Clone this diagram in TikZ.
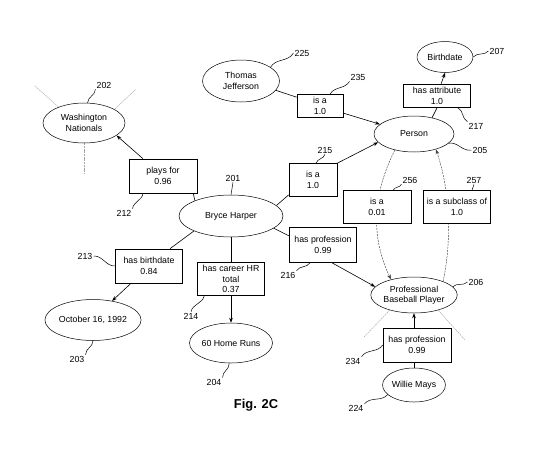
\documentclass[tikz,border=0pt]{standalone}
\usepackage{fontspec}
\setmainfont{Liberation Sans}
\usetikzlibrary{shapes.geometric,arrows.meta,calc}
\pgfdeclarelayer{bg}
\pgfdeclarelayer{curves}
\pgfsetlayers{bg,curves,main}
\begin{document}
\begin{tikzpicture}[x=1pt,y=-1pt,
  font=\fontsize{8.8}{10.5}\selectfont,
  ent/.style={ellipse, draw, line width=0.5pt, inner sep=0pt, align=center},
  relbox/.style={rectangle, draw, line width=0.6pt, fill=white, inner sep=0pt, align=center},
  lbl/.style={inner sep=1pt},
  ln/.style={line width=0.6pt},
  arr/.style={-{Stealth[length=5pt,width=3.6pt]}},
  curv/.style={line width=0.45pt, dash pattern=on 2pt off 1pt, black!75},
  faint/.style={line width=0.4pt, black!35, dash pattern=on 2pt off 0.7pt},
  lead/.style={line width=0.5pt},
  sq/.style={out=28,in=208,relative},
  sqr/.style={out=-28,in=152,relative}]
\begin{pgfonlayer}{bg}
\fill[white] (0,0) rectangle (545,455);
\end{pgfonlayer}
\useasboundingbox (0,0) rectangle (545,455);

% entities
\node[ent, minimum width=82pt, minimum height=40pt] (wn) at (84,123) {Washington\\Nationals};
\node[ent, minimum width=104pt, minimum height=42pt] (bryce) at (231,216) {Bryce Harper};
\node[ent, minimum width=82pt, minimum height=41pt] (oct) at (93,320) {October 16, 1992};
\node[ent, minimum width=80pt, minimum height=40pt] (hr60) at (231,343) {60 Home Runs};
\node[ent, minimum width=77pt, minimum height=42pt] (tj) at (241,81) {Thomas\\Jefferson};
\node[ent, minimum width=80pt, minimum height=36pt] (person) at (414,134) {Person};
\node[ent, minimum width=56pt, minimum height=31pt] (birth) at (445,57) {Birthdate};
\node[ent, minimum width=80pt, minimum height=36pt] (pbp) at (414,295) {Professional\\Baseball Player};
\node[ent, minimum width=58pt, minimum height=34pt] (wm) at (414,385) {Willie Mays};

% relation boxes
\node[relbox, minimum width=68pt, minimum height=34pt] (playsfor) at (163,176) {plays for\\0.96};
\node[relbox, minimum width=48pt, minimum height=33pt] (isa1) at (313,180) {is a\\1.0};
\node[relbox, minimum width=67pt, minimum height=35pt] (hasprof1) at (323,245) {has profession\\0.99};
\node[relbox, minimum width=67pt, minimum height=33pt] (hashr) at (231,279) {has career HR\\total\\0.37};
\node[relbox, minimum width=67pt, minimum height=34pt] (hasbd) at (149,266) {has birthdate\\0.84};
\node[relbox, minimum width=46pt, minimum height=23pt] (isa2) at (320,106) {is a\\1.0};
\node[relbox, minimum width=67pt, minimum height=23pt] (hasattr) at (437,96) {has attribute\\1.0};
\node[relbox, minimum width=68pt, minimum height=33pt] (isa3) at (377,207) {is a\\0.01};
\node[relbox, minimum width=67pt, minimum height=33pt] (subcl) at (457,207) {is a subclass of\\1.0};
\node[relbox, minimum width=68pt, minimum height=34pt] (hasprof2) at (417,345) {has profession\\0.99};

% reference numerals
\node[lbl] (l201) at (233,178) {201};
\node[lbl] (l202) at (104,85) {202};
\node[lbl] (l212) at (124,213) {212};
\node[lbl] (l213) at (85,256) {213};
\node[lbl] (l203) at (77,359) {203};
\node[lbl] (l214) at (191,316) {214};
\node[lbl] (l204) at (214,382) {204};
\node[lbl] (l216) at (288,275) {216};
\node[lbl] (l215) at (325,150) {215};
\node[lbl] (l225) at (302,53) {225};
\node[lbl] (l235) at (358,77) {235};
\node[lbl] (l217) at (476,126) {217};
\node[lbl] (l207) at (497,51) {207};
\node[lbl] (l205) at (480,150) {205};
\node[lbl] (l256) at (410,180) {256};
\node[lbl] (l257) at (474,180) {257};
\node[lbl] (l206) at (476,282) {206};
\node[lbl] (l234) at (353,361) {234};
\node[lbl] (l224) at (356,408) {224};
\node[font=\fontsize{12.9}{14}\selectfont\bfseries] (fig) at (256,405) {Fig. 2C};

% connectors
\draw[ln,arr] ([xshift=-20pt]playsfor.north) -- (wn.-21);
\draw[ln] (bryce.157) -- ([xshift=-4pt]playsfor.south east);
\draw[ln] (bryce.13) -- ([yshift=2pt]isa1.south west);
\draw[ln,arr] (isa1.north east) -- (person.193);
\draw[ln] (bryce.-16) -- (hasprof1.165);
\draw[ln,arr] ([xshift=9pt]hasprof1.south) -- (pbp.168);
\draw[ln] (bryce.south) -- (hashr.north);
\draw[ln,arr] (hashr.south) -- (hr60.north);
\draw[ln] (bryce.202) -- ([xshift=21pt]hasbd.north);
\draw[ln,arr] ([xshift=-18pt]hasbd.south) -- (oct.45);
\draw[ln] (tj.-15) -- ([yshift=-3pt]isa2.north west);
\draw[ln,arr] (isa2.-17) -- (person.164);
\draw[ln] (person.42) -- (hasattr.south);
\draw[ln,arr] ([xshift=4pt]hasattr.north) -- (birth.south);
\draw[ln] (wm.north) -- (pbp.south |- hasprof2.south);
\draw[ln,arr] (pbp.south |- hasprof2.north) -- (pbp.south);

% curved dashed relations (behind boxes)
\begin{pgfonlayer}{curves}
\draw[curv,arr] (person.220) .. controls (372,195) and (371,238) .. (pbp.146);
\draw[curv,arr] (pbp.25) .. controls (452,240) and (450,190) .. (person.-35);
% faint stubs
\coordinate (f1) at (35,86);
\coordinate (f2) at (136,89);
\coordinate (f3) at (84,173);
\coordinate (f4) at (364,337);
\coordinate (f5) at (465,340);
\draw[faint] (wn.148) -- (f1);
\draw[faint] (wn.24) -- (f2);
\draw[faint] (wn.south) -- (f3);
\draw[faint] (pbp.212) -- (f4);
\draw[faint] (pbp.-32) -- (f5);
\end{pgfonlayer}

% leader lines
\draw[lead] (bryce.north) -- (l201.south);
\draw[lead] (wn.80) to[sq] (l202.south west);
\draw[lead] ([xshift=-20pt]playsfor.south) to[sq] (l212.north east);
\draw[lead] (hasbd.west) to[sq] (l213.east);
\draw[lead] (oct.south) to[sq] (l203.north east);
\draw[lead] ([xshift=7pt]hashr.south west) to[sq] (l214.north);
\draw[lead] (hr60.-95) to[sq] (l204.north east);
\draw[lead] ([xshift=-13pt]hasprof1.south) to[sq] (l216.north east);
\draw[lead] ([xshift=3pt]isa1.north) to[sq] (l215.south);
\draw[lead] (tj.25) to[sq] (l225.west);
\draw[lead] ([xshift=10pt]isa2.north) to[sq] (l235.south west);
\draw[lead] ([xshift=21pt]hasattr.south) to[sq] (l217.north west);
\draw[lead] (birth.east) to[sq] (l207.west);
\draw[lead] (person.-15) to[sq] (l205.west);
\draw[lead] ([xshift=16pt]isa3.north) to[sq] (l256.south west);
\draw[lead] ([xshift=15pt]subcl.north) to[sq] (l257.south);
\draw[lead] (pbp.12) to[sq] (l206.west);
\draw[lead] (hasprof2.west) to[sq] (l234.north east);
\draw[lead] (wm.200) to[sq] (l224.north east);
\end{tikzpicture}
\end{document}
